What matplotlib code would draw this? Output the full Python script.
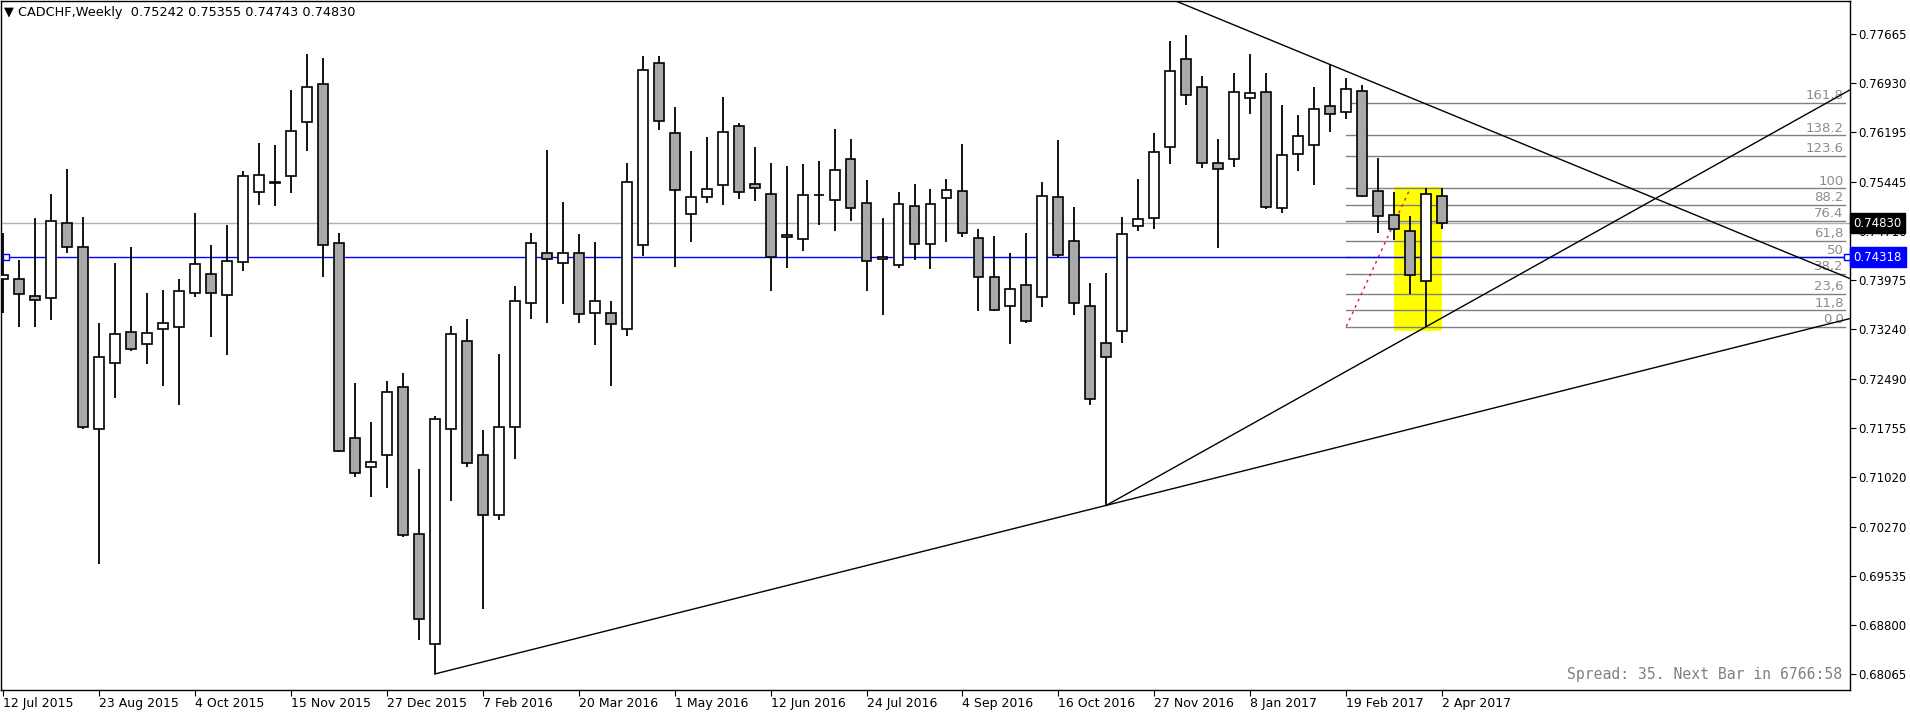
import matplotlib
matplotlib.use("Agg")
import matplotlib.pyplot as plt
import matplotlib.transforms as mtransforms

# weekly CADCHF bars, first bar = 12 Jul 2015
opens = [0.7399, 0.7399, 0.7374, 0.7371, 0.7483, 0.7448, 0.7174, 0.7274, 0.7320, 0.7302,
         0.7325, 0.7327, 0.7378, 0.7407, 0.7376, 0.7425, 0.7530, 0.7544, 0.7554, 0.7635,
         0.7692, 0.7453, 0.7161, 0.7117, 0.7135, 0.7237, 0.7017, 0.6852, 0.7175, 0.7306,
         0.7135, 0.7046, 0.7178, 0.7363, 0.7438, 0.7423, 0.7439, 0.7348, 0.7349, 0.7325,
         0.7451, 0.7723, 0.7619, 0.7497, 0.7522, 0.7540, 0.7629, 0.7542, 0.7527, 0.7462,
         0.7459, 0.7525, 0.7518, 0.7579, 0.7513, 0.7429, 0.7420, 0.7509, 0.7452, 0.7521,
         0.7531, 0.7461, 0.7403, 0.7359, 0.7391, 0.7372, 0.7523, 0.7456, 0.7359, 0.7303,
         0.7321, 0.7479, 0.7491, 0.7597, 0.7730, 0.7687, 0.7573, 0.7579, 0.7671, 0.7680,
         0.7506, 0.7587, 0.7601, 0.7659, 0.7650, 0.7682, 0.7531, 0.7495, 0.7471, 0.7397,
         0.75242]
highs = [0.7468, 0.7428, 0.7491, 0.7527, 0.7565, 0.7492, 0.7334, 0.7423, 0.7447, 0.7378,
         0.7383, 0.7400, 0.7498, 0.7451, 0.7480, 0.7562, 0.7604, 0.7601, 0.7683, 0.7737,
         0.7731, 0.7468, 0.7244, 0.7185, 0.7246, 0.7258, 0.7114, 0.7194, 0.7329, 0.7340,
         0.7173, 0.7287, 0.7389, 0.7469, 0.7593, 0.7515, 0.7467, 0.7455, 0.7366, 0.7574,
         0.7734, 0.7734, 0.7658, 0.7592, 0.7612, 0.7672, 0.7634, 0.7597, 0.7574, 0.7569,
         0.7572, 0.7577, 0.7624, 0.7609, 0.7548, 0.7491, 0.7530, 0.7542, 0.7534, 0.7549,
         0.7602, 0.7475, 0.7464, 0.7438, 0.7468, 0.7545, 0.7608, 0.7508, 0.7393, 0.7408,
         0.7493, 0.7550, 0.7619, 0.7757, 0.7766, 0.7704, 0.7610, 0.7709, 0.7737, 0.7709,
         0.7660, 0.7645, 0.7688, 0.7721, 0.7701, 0.7691, 0.7581, 0.7530, 0.7494, 0.7536,
         0.75355]
lows = [0.7349, 0.7327, 0.7328, 0.7338, 0.7439, 0.7175, 0.6972, 0.7221, 0.7291, 0.7272,
        0.7239, 0.7211, 0.7372, 0.7312, 0.7285, 0.7412, 0.7510, 0.7509, 0.7528, 0.7591,
        0.7402, 0.7140, 0.7102, 0.7072, 0.7086, 0.7012, 0.6858, 0.6807, 0.7067, 0.7118,
        0.6905, 0.7038, 0.7130, 0.7340, 0.7333, 0.7362, 0.7333, 0.7300, 0.7239, 0.7314,
        0.7434, 0.7623, 0.7418, 0.7455, 0.7514, 0.7510, 0.7520, 0.7516, 0.7382, 0.7416,
        0.7442, 0.7481, 0.7472, 0.7486, 0.7382, 0.7346, 0.7416, 0.7428, 0.7415, 0.7455,
        0.7463, 0.7351, 0.7351, 0.7302, 0.7334, 0.7358, 0.7433, 0.7346, 0.7210, 0.7060,
        0.7304, 0.7471, 0.7475, 0.7572, 0.7660, 0.7566, 0.7446, 0.7567, 0.7647, 0.7505,
        0.7498, 0.7561, 0.7540, 0.7620, 0.7639, 0.7522, 0.7468, 0.7458, 0.7377, 0.7328,
        0.74743]
closes = [0.7406, 0.7377, 0.7368, 0.7486, 0.7448, 0.7177, 0.7282, 0.7317, 0.7295, 0.7318,
          0.7333, 0.7381, 0.7422, 0.7378, 0.7426, 0.7554, 0.7556, 0.7545, 0.7622, 0.7688,
          0.7450, 0.7141, 0.7108, 0.7125, 0.7230, 0.7015, 0.6889, 0.7189, 0.7317, 0.7123,
          0.7046, 0.7177, 0.7366, 0.7453, 0.7429, 0.7438, 0.7347, 0.7366, 0.7332, 0.7545,
          0.7713, 0.7637, 0.7533, 0.7522, 0.7534, 0.7620, 0.7530, 0.7536, 0.7433, 0.7466,
          0.7525, 0.7526, 0.7563, 0.7506, 0.7426, 0.7433, 0.7512, 0.7452, 0.7512, 0.7533,
          0.7469, 0.7402, 0.7353, 0.7385, 0.7336, 0.7524, 0.7435, 0.7363, 0.7219, 0.7282,
          0.7467, 0.7489, 0.7590, 0.7711, 0.7675, 0.7573, 0.7564, 0.7680, 0.7679, 0.7507,
          0.7585, 0.7614, 0.7655, 0.7647, 0.7685, 0.7524, 0.7494, 0.7474, 0.7406, 0.7527,
          0.74830]

date_labels = ["12 Jul 2015", "23 Aug 2015", "4 Oct 2015", "15 Nov 2015", "27 Dec 2015",
               "7 Feb 2016", "20 Mar 2016", "1 May 2016", "12 Jun 2016", "24 Jul 2016",
               "4 Sep 2016", "16 Oct 2016", "27 Nov 2016", "8 Jan 2017", "19 Feb 2017",
               "2 Apr 2017"]
price_ticks = [0.77665, 0.76930, 0.76195, 0.75445, 0.74710, 0.73975, 0.73240,
               0.72490, 0.71755, 0.71020, 0.70270, 0.69535, 0.68800, 0.68065]

bid = 0.74830
hline_blue = 0.74318
fib_low, fib_high = 0.73281, 0.75355
fib_levels = [0.0, 11.8, 23.6, 38.2, 50.0, 61.8, 76.4, 88.2, 100.0, 123.6, 138.2, 161.8]
fib_texts = ["0.0", "11,8", "23,6", "38,2", "50", "61,8", "76.4", "88.2", "100",
             "123.6", "138.2", "161,8"]
fib_start = 84
# trendline anchors (bar index, price)
support_a = [(27, 0.6807), (69, 0.7060)]
support_b = [(69, 0.7060), (89, 0.7328)]
resist = [(83, 0.7721), (115.5, 0.7400)]
box_bars = (87, 90)
box_prices = (0.7322, 0.75375)

n = len(opens)
xs = list(range(n))
x_right = 115.5

fig = plt.figure(figsize=(19.1, 7.14), dpi=100)
ax = fig.add_axes([1 / 1910, 24 / 714, 1849 / 1910, 689 / 714])
ax.set_xlim(-0.125, x_right)
ax.set_ylim(0.67830, 0.78164)

# yellow box
ax.add_patch(plt.Rectangle((box_bars[0], box_prices[0]), box_bars[1] - box_bars[0],
                           box_prices[1] - box_prices[0], color="#ffff00", lw=0, zorder=1))

# fibo levels
rng = fib_high - fib_low
for lv, t in zip(fib_levels, fib_texts):
    p = fib_low + rng * lv / 100
    ax.plot([fib_start, x_right - 0.3], [p, p], color="#808080", lw=1, zorder=2)
    ax.text(x_right - 0.4, p + 0.0001, t, color="#8c8c8c", fontsize=9.5,
            ha="right", va="bottom", zorder=2)
ax.plot([fib_start, 88], [fib_low, fib_high], color="#dc143c", lw=1, ls=(0, (2, 3)), zorder=2)

# bid and horizontal line
ax.axhline(bid, color="#b0b0b0", lw=1, zorder=2)
ax.axhline(hline_blue, color="#0000ff", lw=1, zorder=2)
ax.plot([0.2, x_right - 0.2], [hline_blue, hline_blue], "s", ms=5, mfc="white",
        mec="#0000ff", mew=1, clip_on=False, zorder=6)

# trendlines
def ray(pts):
    (x0, y0), (x1, y1) = pts
    slope = (y1 - y0) / (x1 - x0)
    return [x0, x_right], [y0, y0 + slope * (x_right - x0)]

for pts in (support_a, support_b):
    lx, ly = ray(pts)
    ax.plot(lx, ly, color="black", lw=1, zorder=3)
ax.axline(resist[0], resist[1], color="black", lw=1, zorder=3)

# candles
body_bottom = [min(o, c) for o, c in zip(opens, closes)]
body_h = [max(abs(c - o), 0.00008) for o, c in zip(opens, closes)]
colors = ["white" if c >= o else "#a9a9a9" for o, c in zip(opens, closes)]
ax.vlines(xs, lows, highs, color="black", lw=1.3, zorder=4)
ax.bar(xs, body_h, bottom=body_bottom, width=0.62, color=colors,
       edgecolor="black", linewidth=1.2, zorder=5)

# axes styling
for s in ax.spines.values():
    s.set_color("black")
    s.set_linewidth(1)
ax.yaxis.tick_right()
ax.set_yticks(price_ticks)
ax.set_yticklabels([f"{p:.5f}" for p in price_ticks], fontsize=8.5)
ax.tick_params(axis="y", length=4, pad=2, direction="out")
ax.set_xticks(list(range(0, n, 6)))
ax.set_xticklabels(date_labels, fontsize=9, ha="left")
ax.tick_params(axis="x", length=4, pad=1, direction="out")

tr = mtransforms.blended_transform_factory(ax.transAxes, ax.transData)
ax.text(1.002, bid, f"{bid:.5f}", transform=tr, color="white", fontsize=8.5, va="center",
        ha="left", zorder=10, clip_on=False,
        bbox=dict(boxstyle="square,pad=0.3", fc="black", ec="black"))
ax.text(1.002, hline_blue, f"{hline_blue:.5f}", transform=tr, color="white", fontsize=8.5,
        va="center", ha="left", zorder=10, clip_on=False,
        bbox=dict(boxstyle="square,pad=0.3", fc="#0000ff", ec="#0000ff"))

ax.text(0.0015, 0.993, "\u25bc CADCHF,Weekly  %.5f %.5f %.5f %.5f" % (opens[-1], highs[-1], lows[-1], closes[-1]),
        transform=ax.transAxes, fontsize=9.3, va="top", ha="left")
ax.text(0.9955, 0.012, "Spread: 35. Next Bar in 6766:58", transform=ax.transAxes,
        fontsize=10.6, family="DejaVu Sans Mono", color="#808080", ha="right", va="bottom")

fig.savefig("out.png", dpi=100, facecolor="white")
